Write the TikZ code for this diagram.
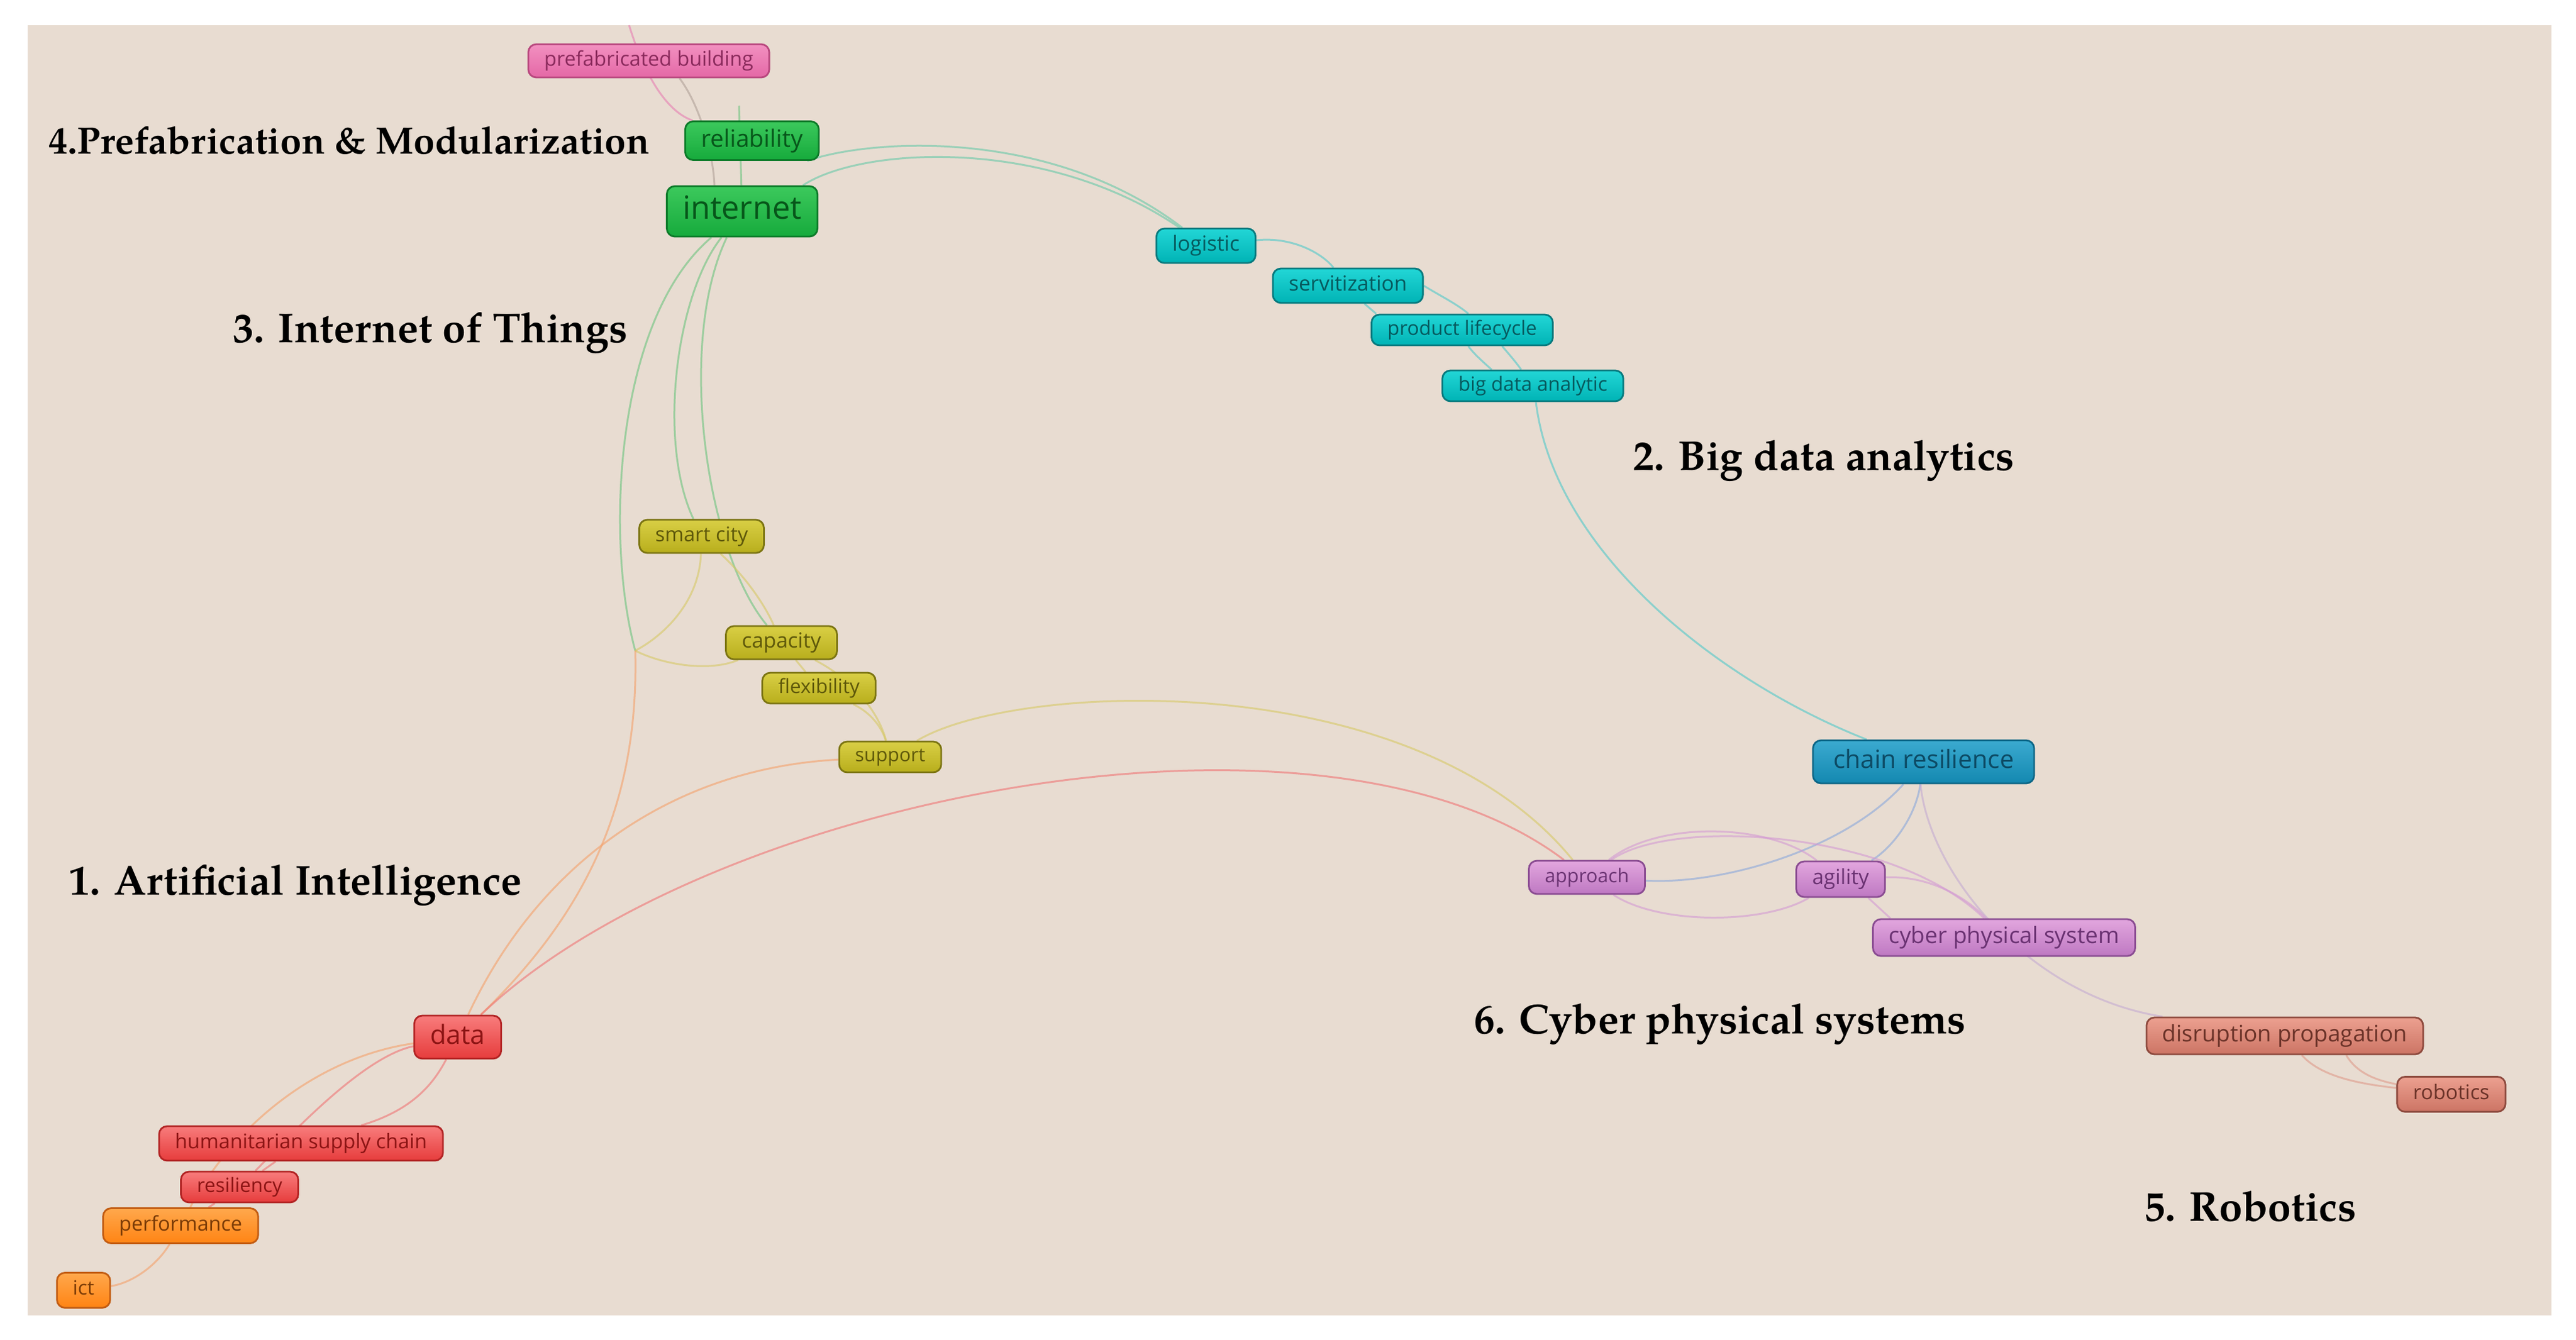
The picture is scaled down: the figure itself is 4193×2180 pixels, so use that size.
\documentclass[tikz,border=0pt]{standalone}
\usepackage{fontspec}
\newfontfamily\kwfont{Open Sans}
\newfontfamily\headfont{texgyrepagella-bold.otf}
\usetikzlibrary{positioning}

\definecolor{bgbeige}{HTML}{E8DCD1}
% node colours (top, bottom, border, text)
\definecolor{pinkA}{HTML}{F290C0}\definecolor{pinkB}{HTML}{E468A6}\definecolor{pinkC}{HTML}{B8487E}\definecolor{pinkD}{HTML}{8A2A5C}
\definecolor{greenA}{HTML}{3CC95C}\definecolor{greenB}{HTML}{16AA3C}\definecolor{greenC}{HTML}{0B7A28}\definecolor{greenD}{HTML}{07561A}
\definecolor{cyanA}{HTML}{22D6D6}\definecolor{cyanB}{HTML}{00B3B5}\definecolor{cyanC}{HTML}{087A7E}\definecolor{cyanD}{HTML}{065A5E}
\definecolor{olivA}{HTML}{D9CF45}\definecolor{olivB}{HTML}{B8AE1C}\definecolor{olivC}{HTML}{7C7512}\definecolor{olivD}{HTML}{5E580A}
\definecolor{blueA}{HTML}{3BAAD0}\definecolor{blueB}{HTML}{1388B0}\definecolor{blueC}{HTML}{0C6686}\definecolor{blueD}{HTML}{0C4A64}
\definecolor{purpA}{HTML}{E2A6DE}\definecolor{purpB}{HTML}{BE78C2}\definecolor{purpC}{HTML}{8A4C92}\definecolor{purpD}{HTML}{6A3272}
\definecolor{salmA}{HTML}{ECA090}\definecolor{salmB}{HTML}{CC7464}\definecolor{salmC}{HTML}{8E4A3E}\definecolor{salmD}{HTML}{6A3228}
\definecolor{redA}{HTML}{F87C7C}\definecolor{redB}{HTML}{E63C3C}\definecolor{redC}{HTML}{B22424}\definecolor{redD}{HTML}{8C1414}
\definecolor{orngA}{HTML}{FFA84C}\definecolor{orngB}{HTML}{FF8414}\definecolor{orngC}{HTML}{C25C12}\definecolor{orngD}{HTML}{7A3A06}
% edge colours
\definecolor{eGreen}{HTML}{6CC47E}\definecolor{eTeal}{HTML}{66C8A8}\definecolor{eCyan}{HTML}{4FC9C9}
\definecolor{eYellow}{HTML}{D6C866}\definecolor{eOrange}{HTML}{F4A06A}\definecolor{eRed}{HTML}{F07474}
\definecolor{ePink}{HTML}{E77DB2}\definecolor{eGray}{HTML}{B0A098}\definecolor{ePurple}{HTML}{D39AD3}
\definecolor{eBlue}{HTML}{8AA8DC}\definecolor{eSalmon}{HTML}{DE9A8A}\definecolor{eLav}{HTML}{C4AAD2}

\pgfdeclarelayer{edgelayer}
\pgfsetlayers{edgelayer,main}

\tikzset{
  kw/.style={rounded corners=13pt, line width=2.8pt, inner xsep=26pt, inner ysep=0pt,
    minimum height=54pt, execute at begin node={\vphantom{Ay}},
    font=\kwfont\fontsize{33}{33}\selectfont},
  kwsz/.style={font=\kwfont\fontsize{#1}{#1}\selectfont},
  kwpink/.style={kw, top color=pinkA, bottom color=pinkB, draw=pinkC, text=pinkD},
  kwgreen/.style={kw, top color=greenA, bottom color=greenB, draw=greenC, text=greenD},
  kwcyan/.style={kw, top color=cyanA, bottom color=cyanB, draw=cyanC, text=cyanD},
  kwolive/.style={kw, top color=olivA, bottom color=olivB, draw=olivC, text=olivD},
  kwblue/.style={kw, top color=blueA, bottom color=blueB, draw=blueC, text=blueD},
  kwpurple/.style={kw, top color=purpA, bottom color=purpB, draw=purpC, text=purpD},
  kwsalmon/.style={kw, top color=salmA, bottom color=salmB, draw=salmC, text=salmD},
  kwred/.style={kw, top color=redA, bottom color=redB, draw=redC, text=redD},
  kworange/.style={kw, top color=orngA, bottom color=orngB, draw=orngC, text=orngD},
  heading/.style={anchor=base west, inner sep=0pt, font=\headfont\fontsize{68}{68}\selectfont},
  edge/.style={line width=3pt, draw opacity=0.6},
}

\begin{document}
\begin{tikzpicture}[x=1pt,y=1pt,yscale=-1,xscale=1]
\useasboundingbox (0,0) rectangle (4193,2180);

% Keyword nodes
\node[kwpink] (prefab) at (1056,99) {prefabricated building};
\node[kwgreen, kwsz=39, minimum height=63pt] (reliab) at (1224,229) {reliability};
\node[kwgreen, kwsz=52, minimum height=82pt] (internet) at (1208,344) {internet};
\node[kwcyan, kwsz=34, minimum height=56pt] (logistic) at (1963,400) {logistic};
\node[kwcyan, kwsz=34, minimum height=56pt] (servit) at (2194,465) {servitization};
\node[kwcyan, kwsz=32, minimum height=50pt] (prodlife) at (2380,537) {product lifecycle};
\node[kwcyan, kwsz=32, minimum height=50pt] (bigdata) at (2495,628) {big data analytic};
\node[kwolive] (smartcity) at (1142,873) {smart city};
\node[kwolive, kwsz=34] (capacity) at (1272,1046) {capacity};
\node[kwolive, kwsz=32, minimum height=50pt] (flexib) at (1333,1120) {flexibility};
\node[kwolive, kwsz=31, minimum height=50pt] (support) at (1449,1232) {support};
\node[kwblue, kwsz=41, minimum height=70pt, inner xsep=33pt] (chainres) at (3131,1240) {chain resilience};
\node[kwpurple, kwsz=31] (approach) at (2583,1428) {approach};
\node[kwpurple, kwsz=34, minimum height=58pt] (agility) at (2996,1431) {agility};
\node[kwpurple, kwsz=37, minimum height=60pt] (cps) at (3262,1526) {cyber physical system};
\node[kwsalmon, kwsz=37, minimum height=60pt] (disrupt) at (3719,1686) {disruption propagation};
\node[kwsalmon, minimum height=57pt] (robotics) at (3990,1781) {robotics};
\node[kwred, kwsz=43, minimum height=70pt] (data) at (745,1688) {data};
\node[kwred, minimum height=56pt] (humsc) at (490,1861) {humanitarian supply chain};
\node[kwred, kwsz=32, minimum height=50pt] (resil) at (390,1932) {resiliency};
\node[kworange, minimum height=57pt] (perform) at (294,1995) {performance};
\node[kworange, kwsz=32, minimum height=57pt] (ict) at (136,2100) {ict};

% Text Node
\node[heading, font=\headfont\fontsize{62}{62}\selectfont] (hPM) at (79,250) {4.Prefabrication \& Modularization};
\node[heading] (hIoT) at (379,557) {3. Internet of Things};
\node[heading] (hBD) at (2658,765) {2. Big data analytics};
\node[heading] (hAI) at (112,1456) {1. Artificial Intelligence};
\node[heading] (hCPS) at (2399,1682) {6. Cyber physical systems};
\node[heading] (hRob) at (3490,1987) {5. Robotics};

\coordinate (topin) at (1024,41);
\coordinate (reltop) at (1203,172);
\coordinate (junct) at (1034,1059);

\begin{pgfonlayer}{edgelayer}
\fill[bgbeige] (45,41) rectangle (4153,2141);

%Curve Lines: prefabrication and internet
\draw[edge, ePink] (topin) .. controls (1045,110) and (1080,180) .. (reliab);
\draw[edge, eGray] ([xshift=50pt]prefab.south) .. controls (1135,165) and (1160,240) .. ([xshift=-45pt]internet.north);
\draw[edge, eGreen] (internet) -- (reltop);
\draw[edge, eTeal] ([xshift=-20pt]reliab.south east) .. controls (1400,230) and (1700,200) .. (logistic);
\draw[edge, eTeal] ([xshift=-25pt]internet.north east) .. controls (1400,240) and (1700,220) .. (logistic);

%Curve Lines: big data chain
\draw[edge, eCyan] (logistic) .. controls (2100,385) and (2150,410) .. (servit);
\draw[edge, eCyan] ([xshift=27pt]servit.south) -- ([xshift=-140pt]prodlife.north);
\draw[edge, eCyan] (servit.east) .. controls (2345,482) and (2372,495) .. ([xshift=10pt]prodlife.north);
\draw[edge, eCyan] ([xshift=10pt]prodlife.south) .. controls (2398,575) and (2415,590) .. ([xshift=-67pt]bigdata.north);
\draw[edge, eCyan] ([xshift=65pt]prodlife.south) .. controls (2455,575) and (2468,590) .. ([xshift=-19pt]bigdata.north);
\draw[edge, eCyan] ([xshift=5pt]bigdata.south) .. controls (2530,900) and (2800,1110) .. (chainres);

%Curve Lines: internet of things
\draw[edge, eGreen] (internet) .. controls (1100,480) and (1070,720) .. (smartcity);
\draw[edge, eGreen] ([xshift=-25pt]internet.south) .. controls (1100,560) and (1150,900) .. (capacity);
\draw[edge, eGreen] (internet) .. controls (1000,520) and (985,880) .. (junct);
\draw[edge, eYellow] (smartcity) .. controls (1138,980) and (1080,1035) .. (junct);
\draw[edge, eYellow] (capacity) .. controls (1150,1095) and (1075,1080) .. (junct);
\draw[edge, eOrange] (junct) .. controls (1040,1300) and (960,1480) .. (data);
\draw[edge, eYellow] (smartcity) .. controls (1215,940) and (1245,985) .. (capacity);
\draw[edge, eYellow] (capacity) -- (flexib);
\draw[edge, eYellow] (capacity) .. controls (1395,1110) and (1432,1165) .. (support);
\draw[edge, eYellow] (flexib) .. controls (1418,1160) and (1436,1185) .. (support);
\draw[edge, eYellow] (support) .. controls (1650,1110) and (2300,1080) .. (approach);
\draw[edge, eOrange] (data) .. controls (880,1400) and (1100,1250) .. (support);
\draw[edge, eRed] (data) .. controls (1150,1300) and (2150,1100) .. (approach);

%Curve Lines: cyber physical systems and robotics
\draw[edge, eBlue] (chainres) .. controls (3000,1385) and (2800,1440) .. (approach);
\draw[edge, eBlue] (chainres) .. controls (3118,1330) and (3080,1380) .. (agility);
\draw[edge, eLav] ([xshift=-5pt]chainres.south) .. controls (3140,1420) and (3300,1620) .. (disrupt);
\draw[edge, ePurple] (approach) .. controls (2700,1335) and (2880,1340) .. (agility);
\draw[edge, ePurple] (approach) .. controls (2720,1330) and (3080,1350) .. (cps);
\draw[edge, ePurple] (approach) .. controls (2700,1505) and (2870,1505) .. (agility);
\draw[edge, ePurple] (agility) .. controls (3140,1425) and (3200,1460) .. (cps);
\draw[edge, ePurple] ([xshift=45pt]agility.south) -- ([xshift=-185pt]cps.north);
\draw[edge, eSalmon] (disrupt) .. controls (3780,1755) and (3850,1765) .. (robotics);
\draw[edge, eSalmon] ([xshift=100pt]disrupt.south) .. controls (3835,1745) and (3865,1758) .. (robotics);

%Curve Lines: artificial intelligence
\draw[edge, eOrange] (data) .. controls (520,1720) and (380,1830) .. (perform);
\draw[edge, eRed] (data) .. controls (590,1720) and (470,1850) .. (resil);
\draw[edge, eRed] (data) .. controls (700,1775) and (660,1810) .. (humsc);
\draw[edge, eRed] (humsc) -- (resil);
\draw[edge, eRed] (resil) -- (perform);
\draw[edge, eOrange] (perform) .. controls (255,2060) and (215,2088) .. (ict);
\end{pgfonlayer}

\end{tikzpicture}
\end{document}
